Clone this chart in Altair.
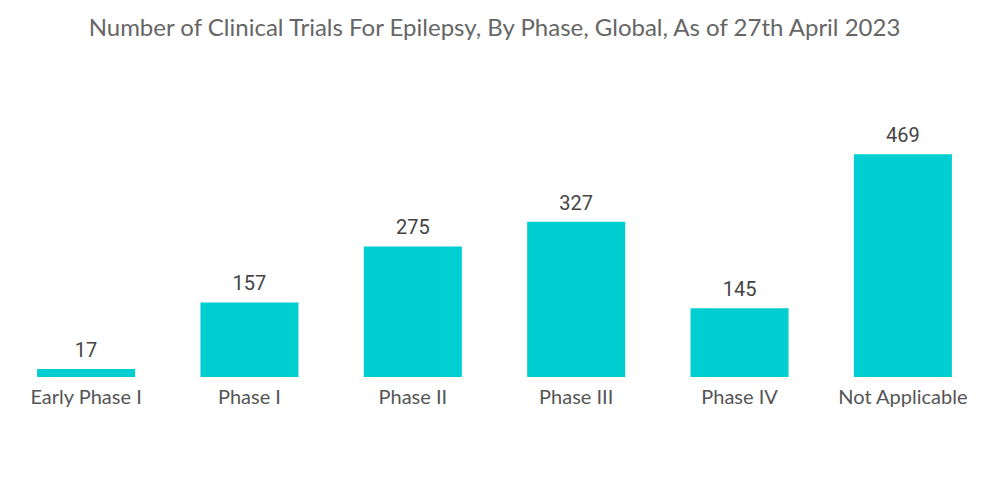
import altair as alt
import pandas as pd

phases = ["Early Phase I", "Phase I", "Phase II", "Phase III", "Phase IV", "Not Applicable"]
trials = [17, 157, 275, 327, 145, 469]

df = pd.DataFrame({"phase": phases, "trials": trials})

x = alt.X("phase:N", sort=phases,
          scale=alt.Scale(paddingInner=0.4, paddingOuter=0.178),
          axis=alt.Axis(title=None, labelAngle=0, domain=False, ticks=False,
                        labelFont="Lato", labelFontSize=20, labelColor="#555555",
                        labelPadding=10))
y = alt.Y("trials:Q", scale=alt.Scale(domain=[0, 600]), axis=None)

bars = alt.Chart(df).mark_bar(color="#00CED1").encode(x=x, y=y)
labels = alt.Chart(df).mark_text(dy=-18, font="Roboto", fontSize=20, color="#444444").encode(
    x=x, y=y, text="trials:Q")

chart = (bars + labels).properties(
    width=973, height=285, padding={"top": 9, "left": 0, "right": 0, "bottom": 0},
    title=alt.TitleParams("Number of Clinical Trials For Epilepsy, By Phase, Global, As of 27th April 2023",
                          font="Lato", fontSize=24, fontWeight="normal", color="#666666",
                          anchor="middle", offset=51)
).configure_view(stroke=None)

chart.save("out.html", embed_options={"renderer": "svg", "actions": False})
